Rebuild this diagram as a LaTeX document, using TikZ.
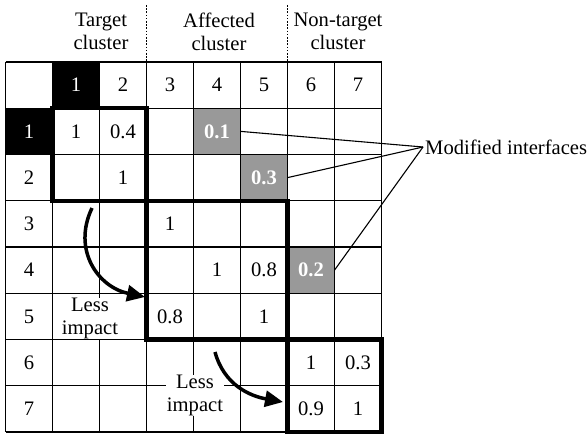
\documentclass[tikz,border=0pt]{standalone}
\usepackage{fontspec}
\setmainfont{Liberation Serif}
\usetikzlibrary{arrows.meta}

% one matrix cell: optional style, row, column, text
\newcommand{\gcell}[4][cell]{\node[#1] (c#2#3) at ({29+47*#3},{85.125+46.25*#2}) {#4};}

\begin{document}
\begin{tikzpicture}[x=1pt,y=-1pt,
  txt/.style={font=\fontsize{20.6}{23}\selectfont},
  cell/.style={txt,minimum width=47pt,minimum height=46.25pt,inner sep=0pt,outer sep=0pt},
  hdr/.style={cell,fill=black,text=white},
  mod/.style={cell,fill=black!40,text=white,font=\fontsize{20.6}{23}\selectfont\bfseries},
  gridline/.style={line width=1.1pt},
  clusterbox/.style={line width=4.4pt,line join=miter},
  sep/.style={line width=1.5pt,dash pattern=on 1.6pt off 1.6pt},
  impact/.style={line width=3.5pt,-{Triangle[length=18pt,width=16pt]}},
  note/.style={txt,fill=white,inner sep=0.5pt,align=center},
]
\useasboundingbox (0,0) rectangle (588,433);

% cluster headings
\node[txt,align=center] (tgt) at (101,31.5) {Target\\cluster};
\node[txt,align=center] (aff) at (219,31.5) {Affected\\cluster};
\node[txt,align=center] (non) at (338,31.5) {Non-target\\cluster};
\draw[sep] (146.5,5) -- (146.5,62);
\draw[sep] (287.5,5) -- (287.5,62);

% header row and column
\gcell[hdr]{0}{1}{1}
\gcell{0}{2}{2}
\gcell{0}{3}{3}
\gcell{0}{4}{4}
\gcell{0}{5}{5}
\gcell{0}{6}{6}
\gcell{0}{7}{7}
\gcell[hdr]{1}{0}{1}
\gcell{2}{0}{2}
\gcell{3}{0}{3}
\gcell{4}{0}{4}
\gcell{5}{0}{5}
\gcell{6}{0}{6}
\gcell{7}{0}{7}

% matrix entries
\gcell{1}{1}{1}
\gcell{1}{2}{0.4}
\gcell[mod]{1}{4}{0.1}
\gcell{2}{2}{1}
\gcell[mod]{2}{5}{0.3}
\gcell{3}{3}{1}
\gcell{4}{4}{1}
\gcell{4}{5}{0.8}
\gcell[mod]{4}{6}{0.2}
\gcell{5}{3}{0.8}
\gcell{5}{5}{1}
\gcell{6}{6}{1}
\gcell{6}{7}{0.3}
\gcell{7}{6}{0.9}
\gcell{7}{7}{1}

% grid
\foreach \i in {0,...,8} {
  \draw[gridline] ({5.5+47*\i},62) -- ({5.5+47*\i},432);
  \draw[gridline] (5.5,{62+46.25*\i}) -- (381.5,{62+46.25*\i});
}

% clusters
\draw[clusterbox] (c11.north west) rectangle (c22.south east);
\draw[clusterbox] (c33.north west) rectangle (c55.south east);
\draw[clusterbox] (c66.north west) rectangle (c77.south east);

% modified interfaces callout
\node[txt,anchor=west,inner sep=2pt] (mi) at (423,147) {Modified interfaces};
\draw[gridline] (c14.east) -- (mi.west);
\draw[gridline] (c25.east) -- (mi.west);
\draw[gridline] (c46.east) -- (mi.west);

% propagation arrows
\node[note] (less1) at (90,318.5) {Less\\impact};
\node[note] (less2) at (195,395.5) {Less\\impact};
\coordinate (a1s) at (92,208);
\coordinate (a1e) at (145,297);
\coordinate (a2s) at (215,352);
\coordinate (a2e) at (283,402);
\draw[impact] (a1s) .. controls (72,250) and (98,287) .. (a1e);
\draw[impact] (a2s) .. controls (224,385) and (250,396) .. (a2e);
\end{tikzpicture}
\end{document}
